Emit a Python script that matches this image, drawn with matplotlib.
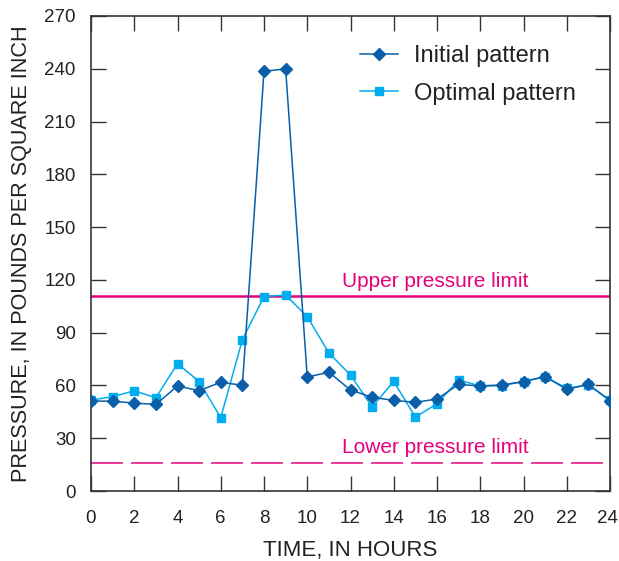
import numpy as np
import matplotlib.pyplot as plt
import matplotlib as mpl
from matplotlib.transforms import ScaledTranslation

mpl.rcParams["font.family"] = ["Liberation Sans", "DejaVu Sans"]

hours = list(range(25))
initial = [51.2, 51.0, 50.0, 49.2, 59.7, 57.0, 61.8, 60.1, 238.5, 240.0, 64.8, 67.5, 57.4,
           53.3, 51.5, 50.4, 52.3, 60.6, 59.7, 60.3, 62.2, 65.0, 57.8, 60.6, 51.3]
optimal = [51.7, 53.6, 57.0, 53.0, 72.4, 62.2, 41.7, 86.0, 110.5, 111.4, 99.1, 78.5, 65.9,
           47.8, 62.3, 42.0, 49.6, 63.1, 59.7, 59.9, 62.2, 65.0, 58.4, 60.3, 51.7]
upper_limit = 110.6
lower_limit = 15.9

DARK = "#0a5fa8"
CYAN = "#00aeef"
MAGENTA = "#e6007e"
FRAME = "#333333"
TXT = "#222222"

fig = plt.figure(figsize=(6.19, 5.61), dpi=100)
ax = fig.add_axes([91 / 619, 1 - 491 / 561, 519 / 619, 475 / 561])

ax.axhline(upper_limit, color=MAGENTA, lw=1.8, zorder=1)
lw_low = 1.1
ax.axhline(lower_limit, color=MAGENTA, lw=lw_low, dashes=(23 / lw_low, 5.8 / lw_low), zorder=1)
ax.text(15.9, upper_limit + 3, "Upper pressure limit", color=MAGENTA, fontsize=15,
        ha="center", va="bottom")
ax.text(15.9, lower_limit + 3.5, "Lower pressure limit", color=MAGENTA, fontsize=15,
        ha="center", va="bottom")

ax.plot(hours, optimal, color=CYAN, lw=1.1, marker="s", ms=6, label="Optimal pattern", zorder=3)
ax.plot(hours, initial, color=DARK, lw=1.1, marker="D", ms=6.5, label="Initial pattern", zorder=4)

handles, labels = ax.get_legend_handles_labels()
ax.legend(handles[::-1], labels[::-1], loc="upper left", bbox_to_anchor=(0.5, 0.958),
          frameon=False, fontsize=17, handlelength=1.6, handletextpad=0.7,
          labelspacing=0.65, labelcolor=TXT, borderaxespad=0)

ax.set_xlim(0, 24)
ax.set_ylim(0, 270)
ax.set_xticks(range(0, 25, 2))
ax.set_yticks(range(0, 271, 30))
ax.tick_params(direction="in", length=11, width=1, color=FRAME, labelsize=13.5,
               labelcolor=TXT, top=True, right=True, pad=11)
ax.tick_params(axis="x", pad=14)
for sp in ax.spines.values():
    sp.set_color(FRAME)
    sp.set_linewidth(1.2)

# last x label sits a bit left so it stays inside the figure
last = ax.get_xticklabels()[-1]
last.set_transform(last.get_transform() + ScaledTranslation(-3 / 100, 0, fig.dpi_scale_trans))

ax.set_xlabel("TIME, IN HOURS", fontsize=16, color=TXT, labelpad=9)
ax.set_ylabel("PRESSURE, IN POUNDS PER SQUARE INCH", fontsize=15.6, color=TXT, labelpad=9)

fig.savefig("out.png", dpi=100)
